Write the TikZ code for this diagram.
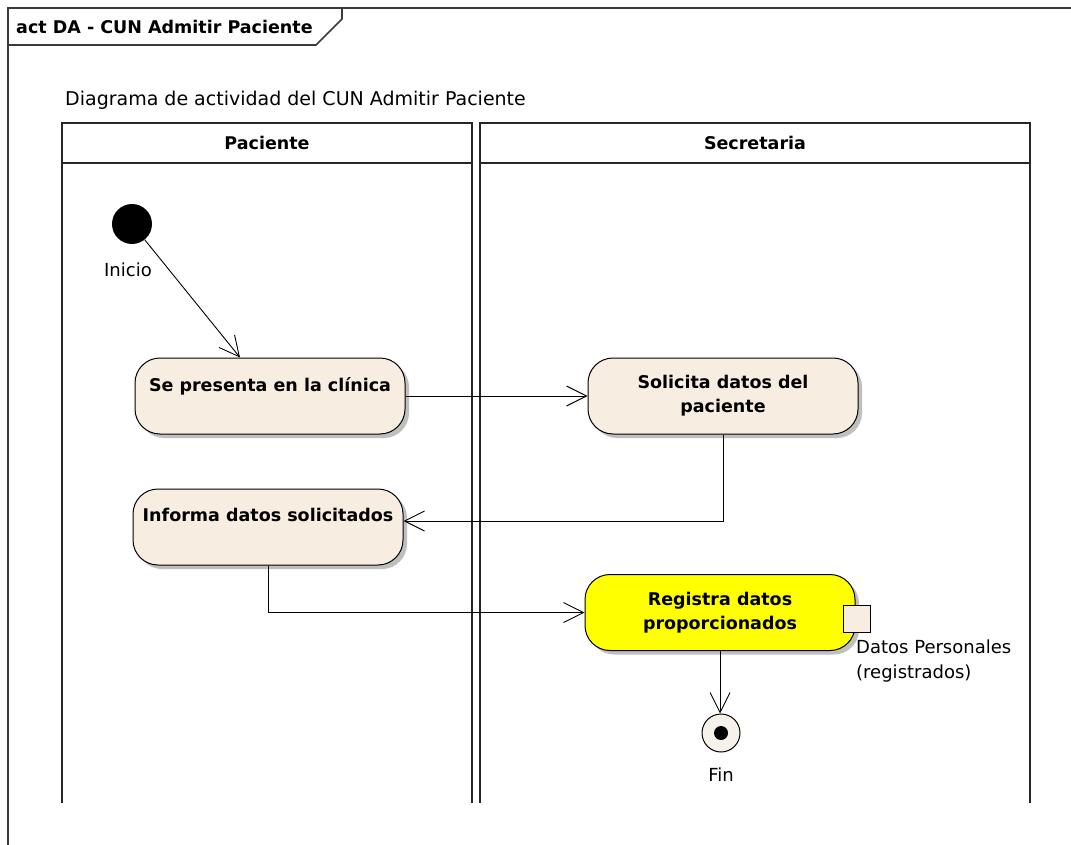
\documentclass[tikz,border=0pt]{standalone}
\usepackage{fontspec}
\setmainfont{DejaVu Sans}
\usetikzlibrary{arrows.meta,shadows,calc}
\definecolor{actfill}{HTML}{F7EDE1}
\definecolor{regfill}{HTML}{FFFF00}
\definecolor{endfill}{HTML}{F6F2EA}
\definecolor{framecol}{HTML}{3A3A3A}
\definecolor{lanecol}{HTML}{262626}

\begin{document}
\begin{tikzpicture}[x=1pt,y=-1pt,
  txt/.style={inner sep=0pt, font=\fontsize{18}{25}\selectfont},
  boldtxt/.style={inner sep=0pt, font=\fontsize{17.5}{24}\selectfont\bfseries},
  action/.style={draw, line width=1pt, rounded corners=25pt, fill=actfill,
    minimum width=270pt, minimum height=76pt, align=center, inner sep=0pt,
    font=\fontsize{17.5}{24}\selectfont\bfseries,
    drop shadow={shadow xshift=4pt, shadow yshift=-4pt, fill=black!25, opacity=1}},
  flow/.style={line width=0.9pt, -{Straight Barb[length=20pt,width=20pt]}},
  lane/.style={line width=2pt, draw=lanecol},
]
\useasboundingbox (0,0) rectangle (1071,845);

% diagram frame and its name tab
\draw[line width=2pt, framecol] (8,845) -- (8,8) -- (1071,8);
\draw[line width=1.6pt, framecol] (8,45) -- (316,45) -- (342,19) -- (342,8);
\node[boldtxt, anchor=west] (title) at (16,27) {act DA - CUN Admitir Paciente};
\node[inner sep=0pt, font=\fontsize{19}{25}\selectfont, anchor=west] (subtitle) at (65,100) {Diagrama de actividad del CUN Admitir Paciente};

% swimlanes
\draw[lane] (62,803) -- (62,123) -- (472,123) -- (472,803);
\draw[lane] (62,163) -- (472,163);
\node[boldtxt] (lanep) at (267,143) {Paciente};
\draw[lane] (480,803) -- (480,123) -- (1030,123) -- (1030,803);
\draw[lane] (480,163) -- (1030,163);
\node[boldtxt] (lanes) at (755,143) {Secretaria};

% initial node
\node[circle, fill=black, minimum size=40pt, inner sep=0pt] (init) at (132,224) {};
\node[txt] (initlbl) at (128,270) {Inicio};

% actions
\node[action] (a1) at (270,396) {Se presenta en la clínica\\ \mbox{}};
\node[action] (a2) at (723,396) {Solicita datos del\\paciente};
\node[action] (a3) at (268,527) {Informa datos solicitados\\ \mbox{}};
\node[action, fill=regfill] (a4) at (720,612.5) {Registra datos\\proporcionados};

% output pin
\node[draw, line width=1pt, fill=actfill, minimum size=27pt, inner sep=0pt] (pin) at (856.5,618.5) {};
\node[txt, anchor=north west, align=left] (pinlbl) at (856,640) {Datos Personales\\(registrados)};

% final node
\node[circle, draw, line width=1pt, fill=endfill, minimum size=38pt, inner sep=0pt] (fin) at (721,733) {};
\node[circle, fill=black, minimum size=14pt, inner sep=0pt] (findot) at (fin.center) {};
\node[txt] (finlbl) at (721,775) {Fin};

% control flows
\draw[flow] (init) -- ($(a1.north)+(-30,0)$);
\draw[flow] (a1.east) -- (a2.west);
\draw[flow] (a2.south) |- ($(a3.east)+(0,-6)$);
\draw[flow] (a3.south) |- (a4.west);
\draw[flow] (a4.south) -- (a4.south |- fin.north);
\end{tikzpicture}
\end{document}
